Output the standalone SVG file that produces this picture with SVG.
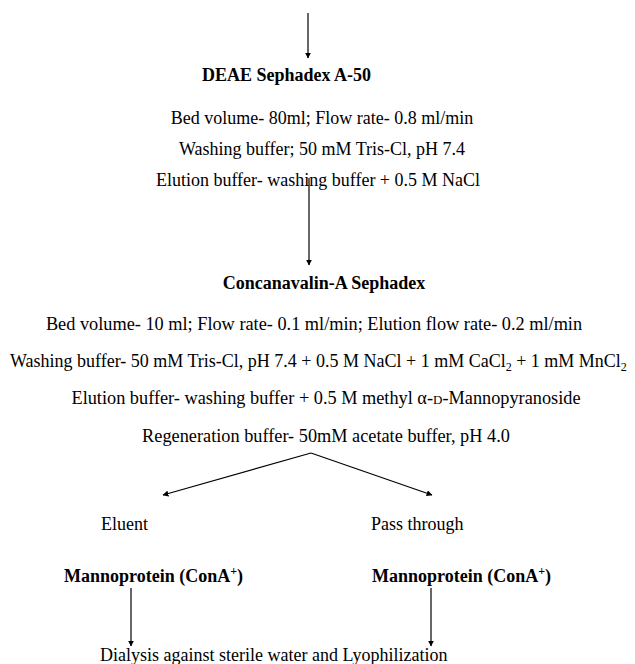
<svg xmlns="http://www.w3.org/2000/svg" width="635" height="664" viewBox="0 0 635 664">
<style>
  text { font-family: "Liberation Serif", "Times New Roman", serif; font-size: 18px; fill: #000; }
  .b { font-weight: bold; }
  .c { text-anchor: middle; }
  .l { font-size: 18.3px; }
  .edge { stroke: #000; stroke-width: 1.2; fill: none; marker-end: url(#ah); }
</style>
<defs>
  <marker id="ah" viewBox="0 0 10 10" refX="9" refY="5" markerWidth="6" markerHeight="6" markerUnits="userSpaceOnUse" orient="auto">
    <path d="M0,0 L10,5 L0,10 Z" fill="#000"/>
  </marker>
</defs>
<rect width="635" height="664" fill="#fff"/>
<g id="connectors">
  <line class="edge" x1="308" y1="13" x2="308" y2="58"/>
  <line class="edge" x1="309" y1="178" x2="309" y2="265"/>
  <line class="edge" x1="311" y1="453" x2="163" y2="495"/>
  <line class="edge" x1="311" y1="453" x2="432" y2="495"/>
  <line class="edge" x1="131" y1="588" x2="131" y2="646"/>
  <line class="edge" x1="431" y1="588" x2="431" y2="646"/>
</g>
<g id="deae">
  <text class="b" x="202" y="81">DEAE Sephadex A-50</text>
  <text class="c" x="322" y="124">Bed volume- 80ml; Flow rate- 0.8 ml/min</text>
  <text class="c" x="322" y="155">Washing buffer; 50 mM Tris-Cl, pH 7.4</text>
  <text class="c" x="318" y="186">Elution buffer- washing buffer + 0.5 M NaCl</text>
</g>
<g id="cona">
  <text class="b c" x="324" y="289">Concanavalin-A Sephadex</text>
  <text class="c l" x="314" y="330">Bed volume- 10 ml; Flow rate- 0.1 ml/min; Elution flow rate- 0.2 ml/min</text>
  <text x="10" y="367">Washing buffer- 50 mM Tris-Cl, pH 7.4 + 0.5 M NaCl + 1 mM CaCl<tspan font-size="12" dy="4">2</tspan><tspan dy="-4"> + 1 mM MnCl</tspan><tspan font-size="12" dy="4">2</tspan></text>
  <text class="c l" x="326" y="404">Elution buffer- washing buffer + 0.5 M methyl α-<tspan font-size="13">D</tspan>-Mannopyranoside</text>
  <text class="c l" x="326" y="442">Regeneration buffer- 50mM acetate buffer, pH 4.0</text>
</g>
<g id="eluent">
  <text x="101" y="530">Eluent</text>
  <text class="b" x="64" y="582">Mannoprotein (ConA<tspan font-size="12" dy="-7">+</tspan><tspan dy="7">)</tspan></text>
</g>
<g id="passthrough">
  <text x="371" y="530">Pass through</text>
  <text class="b" x="372" y="582">Mannoprotein (ConA<tspan font-size="12" dy="-7">+</tspan><tspan dy="7">)</tspan></text>
</g>
<g id="dialysis">
  <text x="100" y="661">Dialysis against sterile water and Lyophilization</text>
</g>
</svg>
